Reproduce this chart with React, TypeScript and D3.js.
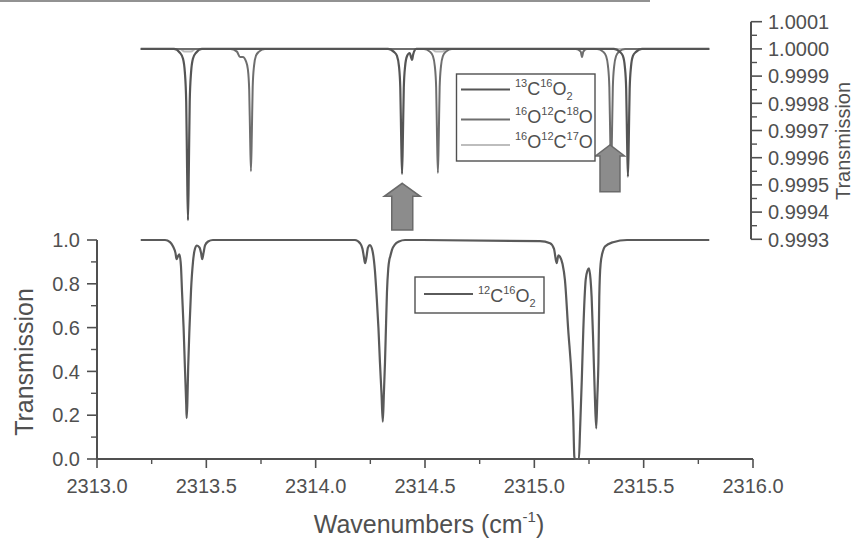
import React from "react";
import * as d3 from "d3";

const W = 858;
const H = 542;

// ---- axis ticks ----
const xMajorTicks = [2313.0, 2313.5, 2314.0, 2314.5, 2315.0, 2315.5, 2316.0];
const xMinorTicks = [2313.25, 2313.75, 2314.25, 2314.75, 2315.25, 2315.75];
const yBottomMajor = [0.0, 0.2, 0.4, 0.6, 0.8, 1.0];
const yBottomMinor = [0.1, 0.3, 0.5, 0.7, 0.9];
const yTopMajor = [0.9993, 0.9994, 0.9995, 0.9996, 0.9997, 0.9998, 0.9999, 1.0, 1.0001];
const yTopMinor = [0.99935, 0.99945, 0.99955, 0.99965, 0.99975, 0.99985, 0.99995, 1.00005];

// ---- series (wavenumber cm^-1, transmission) ----
const series12C16O2: [number, number][] = [
  [2313.2, 1.0], [2313.311, 1.0], [2313.334, 0.99], [2313.348, 0.97], [2313.359, 0.94],
  [2313.364, 0.912], [2313.37, 0.925], [2313.377, 0.935], [2313.384, 0.88], [2313.389, 0.76],
  [2313.396, 0.6], [2313.402, 0.42], [2313.408, 0.25], [2313.41, 0.187], [2313.413, 0.25],
  [2313.417, 0.42], [2313.423, 0.6], [2313.43, 0.77], [2313.439, 0.9], [2313.448, 0.96],
  [2313.457, 0.975], [2313.469, 0.965], [2313.476, 0.94], [2313.481, 0.913], [2313.487, 0.94],
  [2313.494, 0.975], [2313.508, 0.993], [2313.53, 1.0],
  [2314.18, 1.0], [2314.203, 0.985], [2314.214, 0.96], [2314.221, 0.92], [2314.226, 0.894],
  [2314.232, 0.92], [2314.239, 0.965], [2314.248, 0.977], [2314.26, 0.95], [2314.271, 0.86],
  [2314.279, 0.74], [2314.287, 0.6], [2314.294, 0.44], [2314.301, 0.3], [2314.307, 0.17],
  [2314.312, 0.3], [2314.317, 0.44], [2314.322, 0.62], [2314.326, 0.76], [2314.332, 0.87],
  [2314.337, 0.91], [2314.341, 0.925], [2314.349, 0.955], [2314.363, 0.98], [2314.381, 0.993],
  [2314.409, 1.0],
  [2315.026, 0.995], [2315.072, 0.985], [2315.09, 0.96], [2315.102, 0.894], [2315.11, 0.93],
  [2315.117, 0.924], [2315.129, 0.89], [2315.14, 0.817], [2315.155, 0.589], [2315.171, 0.36],
  [2315.178, 0.19], [2315.183, 0.01], [2315.186, 0.0], [2315.204, 0.0], [2315.209, 0.13],
  [2315.217, 0.36], [2315.224, 0.59], [2315.235, 0.82], [2315.243, 0.86], [2315.25, 0.87],
  [2315.257, 0.82], [2315.262, 0.74], [2315.27, 0.51], [2315.277, 0.28], [2315.283, 0.14],
  [2315.288, 0.28], [2315.293, 0.44], [2315.297, 0.74], [2315.303, 0.89], [2315.314, 0.95],
  [2315.323, 0.97], [2315.36, 0.99], [2315.424, 1.0], [2315.8, 1.0],
];

const series13C16O2: [number, number][] = [
  [2313.2, 1.0], [2313.352, 1.0], [2313.379, 0.999986], [2313.393, 0.999965], [2313.402, 0.999912],
  [2313.408, 0.999805], [2313.412, 0.99956], [2313.416, 0.99937], [2313.42, 0.99956], [2313.424, 0.999805],
  [2313.43, 0.999912], [2313.439, 0.999965], [2313.453, 0.999986], [2313.48, 1.0],
  [2314.331, 1.0], [2314.358, 0.999989], [2314.372, 0.999974], [2314.381, 0.999936], [2314.387, 0.999857],
  [2314.391, 0.99968], [2314.395, 0.99954], [2314.399, 0.99968], [2314.403, 0.999857], [2314.409, 0.999936],
  [2314.418, 0.999974], [2314.43, 0.999985], [2314.436, 0.99997], [2314.441, 0.99996], [2314.446, 0.99998],
  [2314.46, 1.0],
  [2315.364, 1.0], [2315.391, 0.999989], [2315.405, 0.999974], [2315.414, 0.999934], [2315.42, 0.999854],
  [2315.424, 0.99967], [2315.428, 0.99953], [2315.432, 0.99967], [2315.436, 0.999854], [2315.442, 0.999934],
  [2315.451, 0.999974], [2315.465, 0.999989], [2315.492, 1.0], [2315.8, 1.0],
];

const series16O12C18O: [number, number][] = [
  [2313.2, 1.0], [2313.61, 1.0], [2313.64, 0.99999], [2313.654, 0.99997], [2313.667, 0.99997],
  [2313.681, 0.999955], [2313.69, 0.999925], [2313.696, 0.99985], [2313.7, 0.999685], [2313.704, 0.99955],
  [2313.708, 0.999685], [2313.712, 0.99986], [2313.718, 0.999937], [2313.727, 0.999975], [2313.741, 0.99999],
  [2313.768, 1.0],
  [2314.495, 1.0], [2314.522, 0.99999], [2314.536, 0.999974], [2314.545, 0.999936], [2314.551, 0.999859],
  [2314.555, 0.99968], [2314.559, 0.999544], [2314.563, 0.99968], [2314.567, 0.999859], [2314.573, 0.999936],
  [2314.582, 0.999974], [2314.596, 0.99999], [2314.623, 1.0],
  [2315.19, 1.0], [2315.212, 0.99999], [2315.218, 0.99997], [2315.224, 0.99999], [2315.24, 1.0],
  [2315.287, 1.0], [2315.314, 0.99999], [2315.328, 0.999974], [2315.337, 0.999936], [2315.343, 0.99986],
  [2315.347, 0.99968], [2315.351, 0.99955], [2315.355, 0.99968], [2315.359, 0.99986], [2315.365, 0.999936],
  [2315.374, 0.999974], [2315.388, 0.99999], [2315.415, 1.0], [2315.8, 1.0],
];

const series16O12C17O: [number, number][] = [
  [2313.2, 1.0], [2313.38, 1.0], [2313.4, 0.99999], [2313.43, 0.99999], [2313.45, 1.0],
  [2314.53, 1.0], [2314.55, 0.99999], [2314.58, 0.99999], [2314.6, 1.0], [2315.8, 1.0],
];

// arrows: wavenumber, tip value, base value (top-panel transmission)
const arrowWavenumbers = [2314.396, 2315.346];
const arrowTips = [0.999506, 0.999647];
const arrowBases = [0.999334, 0.999475];

// legend labels
type Part = { t: string; k?: "sup" | "sub" };
const label13C16O2: Part[] = [{ t: "13", k: "sup" }, { t: "C" }, { t: "16", k: "sup" }, { t: "O" }, { t: "2", k: "sub" }];
const label16O12C18O: Part[] = [{ t: "16", k: "sup" }, { t: "O" }, { t: "12", k: "sup" }, { t: "C" }, { t: "18", k: "sup" }, { t: "O" }];
const label16O12C17O: Part[] = [{ t: "16", k: "sup" }, { t: "O" }, { t: "12", k: "sup" }, { t: "C" }, { t: "17", k: "sup" }, { t: "O" }];
const label12C16O2: Part[] = [{ t: "12", k: "sup" }, { t: "C" }, { t: "16", k: "sup" }, { t: "O" }, { t: "2", k: "sub" }];

const FONT = "'Liberation Sans', Arial, Helvetica, sans-serif";
const INK = "#505050";

function Formula({ x, y, parts, size = 18, small = 11 }: { x: number; y: number; parts: Part[]; size?: number; small?: number }) {
  let cur = 0;
  return (
    <text x={x} y={y} fontFamily={FONT} fontSize={size} fill={INK}>
      {parts.map((p, i) => {
        const target = p.k === "sup" ? -8 : p.k === "sub" ? 5 : 0;
        const dy = target - cur;
        cur = target;
        return (
          <tspan key={i} dy={dy} fontSize={p.k ? small : size}>
            {p.t}
          </tspan>
        );
      })}
    </text>
  );
}

export default function App() {
  const x = d3.scaleLinear().domain([2313, 2316]).range([97, 753]);
  const yB = d3.scaleLinear().domain([0, 1]).range([459, 240]);
  const yT = d3.scaleLinear().domain([0.9993, 1.0001]).range([239.3, 21.7]);

  const lineB = d3.line<[number, number]>().x((d) => x(d[0])).y((d) => yB(d[1])).curve(d3.curveMonotoneX);
  const lineT = d3.line<[number, number]>().x((d) => x(d[0])).y((d) => yT(d[1])).curve(d3.curveMonotoneX);

  const arrowPath = (i: number) => {
    const cx = x(arrowWavenumbers[i]);
    const tip = yT(arrowTips[i]);
    const base = yT(arrowBases[i]);
    const headHalf = i === 0 ? 18 : 14.5;
    const shaftHalf = i === 0 ? 10.5 : 10;
    const headLen = i === 0 ? 13 : 11;
    return `M${cx},${tip} L${cx + headHalf},${tip + headLen} L${cx + shaftHalf},${tip + headLen} L${cx + shaftHalf},${base} L${cx - shaftHalf},${base} L${cx - shaftHalf},${tip + headLen} L${cx - headHalf},${tip + headLen} Z`;
  };

  const axisX = 97;
  const rightAxisX = 751;

  return (
    <svg width={W} height={H} style={{ position: "absolute", left: 0, top: 0, background: "#fff" }}>
      <rect x={0} y={0} width={W} height={H} fill="#fff" />
      {/* scan edge at top */}
      <line x1={0} x2={650} y1={1} y2={1} stroke="#777" strokeWidth={2} opacity={0.8} />

      {/* bottom panel axes */}
      <line x1={axisX} x2={axisX} y1={yB(0)} y2={yB(1)} stroke={INK} strokeWidth={2} />
      <line x1={x(2313)} x2={x(2316)} y1={yB(0)} y2={yB(0)} stroke={INK} strokeWidth={2} />
      {yBottomMajor.map((v) => (
        <g key={"yb" + v}>
          <line x1={axisX - 10} x2={axisX} y1={yB(v)} y2={yB(v)} stroke={INK} strokeWidth={1.6} />
          <text x={80} y={yB(v)} dy="0.36em" textAnchor="end" fontFamily={FONT} fontSize={20} fill={INK}>
            {v.toFixed(1)}
          </text>
        </g>
      ))}
      {yBottomMinor.map((v) => (
        <line key={"ybm" + v} x1={axisX - 6} x2={axisX} y1={yB(v)} y2={yB(v)} stroke={INK} strokeWidth={1.4} />
      ))}
      {xMajorTicks.map((v) => (
        <g key={"xt" + v}>
          <line x1={x(v)} x2={x(v)} y1={yB(0)} y2={yB(0) + 9} stroke={INK} strokeWidth={1.6} />
          <text x={x(v)} y={493} textAnchor="middle" fontFamily={FONT} fontSize={20} fill={INK}>
            {v.toFixed(1)}
          </text>
        </g>
      ))}
      {xMinorTicks.map((v) => (
        <line key={"xm" + v} x1={x(v)} x2={x(v)} y1={yB(0)} y2={yB(0) + 5} stroke={INK} strokeWidth={1.4} />
      ))}

      {/* axis titles */}
      <text x={429} y={533} textAnchor="middle" fontFamily={FONT} fontSize={25} fill={INK}>
        Wavenumbers (cm
        <tspan fontSize={15} dy={-11}>-1</tspan>
        <tspan dy={11}>)</tspan>
      </text>
      <text transform="translate(33,362) rotate(-90)" textAnchor="middle" fontFamily={FONT} fontSize={25} fill={INK}>
        Transmission
      </text>

      {/* top panel right axis */}
      <line x1={rightAxisX} x2={rightAxisX} y1={yT(0.9993)} y2={yT(1.0001)} stroke={INK} strokeWidth={2} />
      {yTopMajor.map((v) => (
        <g key={"yt" + v}>
          <line x1={rightAxisX} x2={rightAxisX + 11} y1={yT(v)} y2={yT(v)} stroke={INK} strokeWidth={1.6} />
          <text x={768} y={yT(v)} dy="0.36em" textAnchor="start" fontFamily={FONT} fontSize={20} fill={INK}>
            {v.toFixed(4)}
          </text>
        </g>
      ))}
      {yTopMinor.map((v) => (
        <line key={"ytm" + v} x1={rightAxisX} x2={rightAxisX + 6} y1={yT(v)} y2={yT(v)} stroke={INK} strokeWidth={1.4} />
      ))}
      <text transform="translate(850,141) rotate(-90)" textAnchor="middle" fontFamily={FONT} fontSize={20} fill={INK}>
        Transmission
      </text>

      {/* top traces */}
      <path d={lineT(series16O12C17O) || ""} fill="none" stroke="#bdbdbd" strokeWidth={2} />
      <path d={lineT(series16O12C18O) || ""} fill="none" stroke="#6e6e6e" strokeWidth={2} />
      <path d={lineT(series13C16O2) || ""} fill="none" stroke="#555" strokeWidth={2.2} />

      {/* bottom trace */}
      <path d={lineB(series12C16O2) || ""} fill="none" stroke="#5a5a5a" strokeWidth={2.2} />

      {/* arrows */}
      {arrowWavenumbers.map((_, i) => (
        <path key={"ar" + i} d={arrowPath(i)} fill="#8c8c8c" stroke="#6a6a6a" strokeWidth={1.5} />
      ))}

      {/* legend top */}
      <rect x={456.5} y={74} width={138.5} height={87} fill="#fff" stroke={INK} strokeWidth={1.4} />
      <line x1={461} x2={510} y1={89.5} y2={89.5} stroke="#555" strokeWidth={2} />
      <line x1={461} x2={510} y1={119.5} y2={119.5} stroke="#6e6e6e" strokeWidth={2} />
      <line x1={461} x2={510} y1={145} y2={145} stroke="#bdbdbd" strokeWidth={2} />
      <Formula x={515} y={95} parts={label13C16O2} />
      <Formula x={515} y={123} parts={label16O12C18O} />
      <Formula x={515} y={148} parts={label16O12C17O} />

      {/* legend bottom */}
      <rect x={415} y={277} width={129} height={36} fill="#fff" stroke={INK} strokeWidth={1.4} />
      <line x1={424} x2={473} y1={294} y2={294} stroke="#5a5a5a" strokeWidth={2} />
      <Formula x={478} y={302} parts={label12C16O2} />
    </svg>
  );
}
